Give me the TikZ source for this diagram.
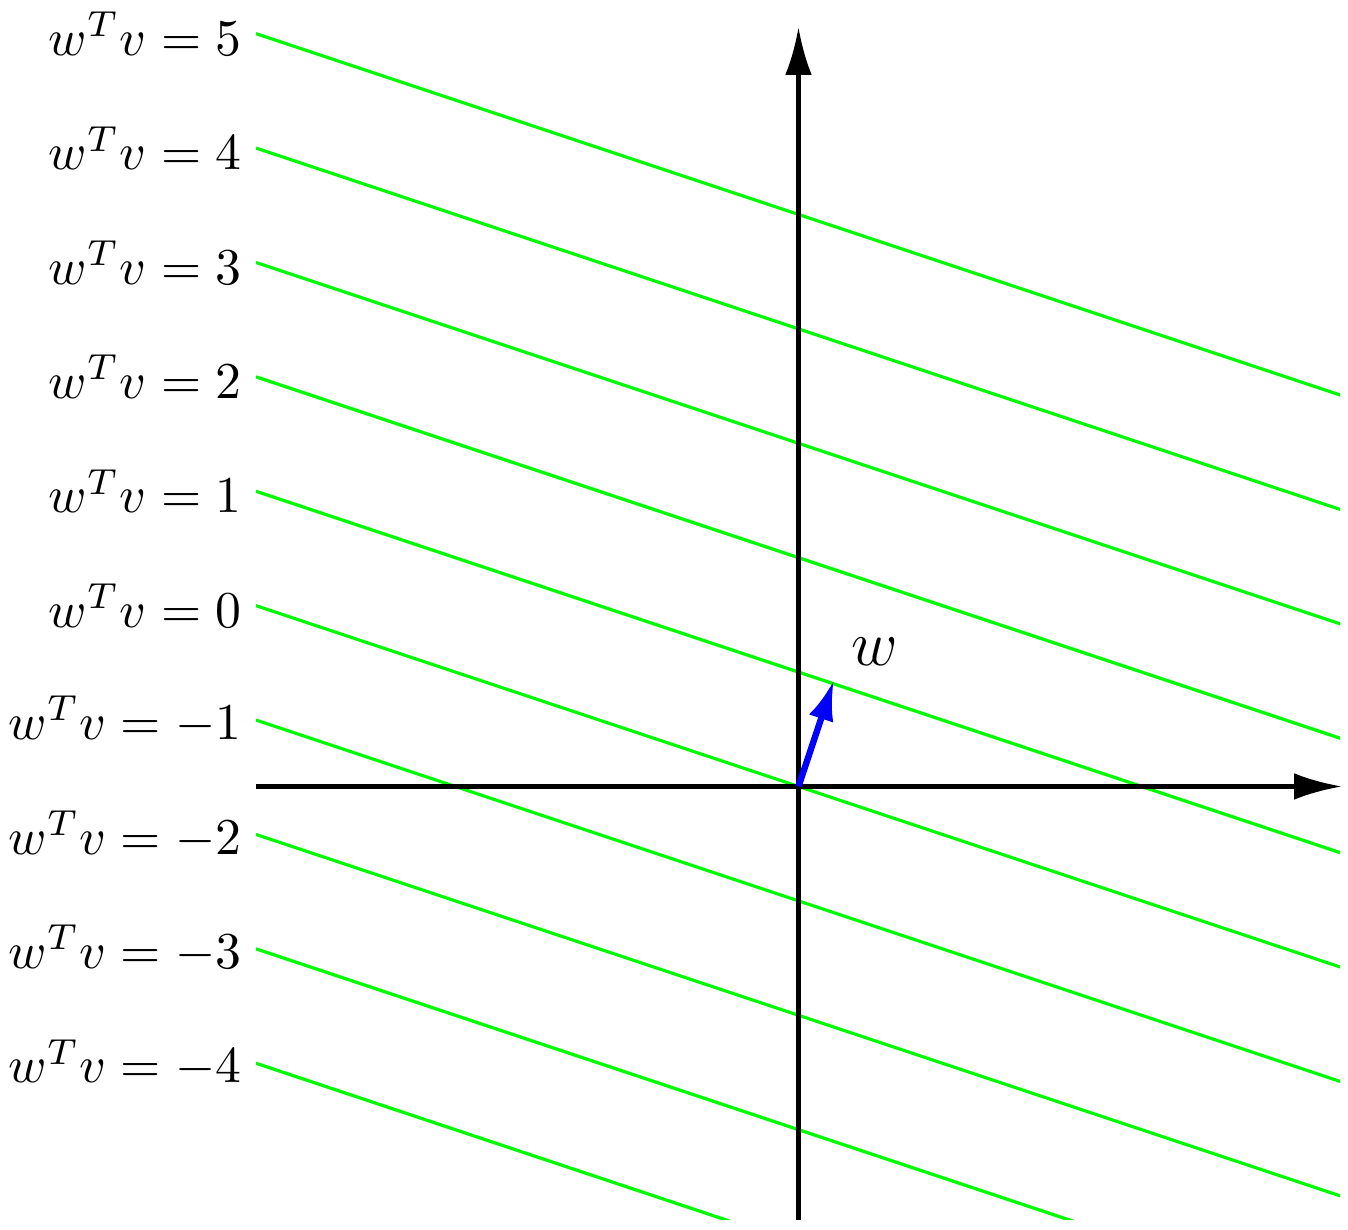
\documentclass[tikz,border=0pt]{standalone}
\usetikzlibrary{arrows.meta}
\begin{document}
\begin{tikzpicture}[x=0.1876pt,y=0.1876pt,
  axis/.style={line width=0.8pt,-{Latex[length=9pt,width=5pt]}},
  level/.style={color={rgb,255:red,0;green,250;blue,0},line width=0.6pt},
  wvec/.style={blue,line width=1.2pt,-{Latex[length=7.5pt,width=4.8pt]}},
  lab/.style={left,inner sep=2.6pt,scale=0.97}]
\useasboundingbox (-798.5,-443.5) rectangle (549.5,786.5);
\coordinate (O) at (0,0);
\begin{scope}
  \clip (-542.5,-433.5) rectangle (541.5,786.5);
  \foreach \k in {-4,...,5}{
    \pgfmathsetmacro\yl{180.83+114.4*\k}
    \pgfmathsetmacro\yr{-181.67+114.4*\k}
    \coordinate (s\k) at (-542.5,\yl);
    \coordinate (e\k) at (545,\yr);
    \draw[level] (s\k) -- (e\k);
  }
\end{scope}
\foreach \k in {-4,...,5}{
  \pgfmathsetmacro\yl{180.83+114.4*\k}
  \coordinate (t\k) at (-542.5,\yl);
  \node[lab] (l\k) at (t\k) {$w^Tv=\k$};
}
\coordinate (xl) at (-542.5,0);
\coordinate (xr) at (543.5,0);
\coordinate (yb) at (0,-433.5);
\coordinate (yt) at (0,759.5);
\draw[axis] (xl) -- (xr);
\draw[axis] (yb) -- (yt);
\coordinate (wt) at (35.3,106);
\draw[wvec] (O) -- (wt);
\node (wl) at (76,135) {\large $w$};
\end{tikzpicture}
\end{document}
